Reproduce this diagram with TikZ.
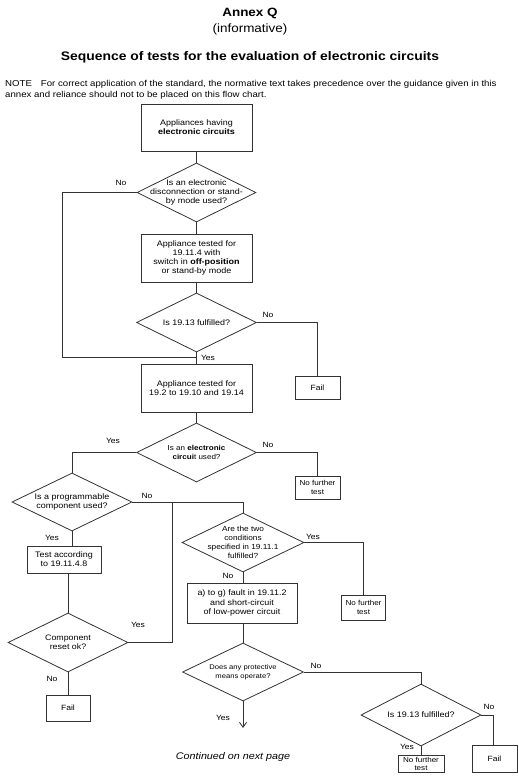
\documentclass[tikz,border=0pt]{standalone}
\usepackage{fontspec}
\setmainfont{Liberation Sans}[FakeStretch=1.12]
\usetikzlibrary{shapes.geometric,arrows.meta}
\newcommand\myfs[2]{\fontsize{#1}{#2}\selectfont}
\begin{document}
\begin{tikzpicture}[x=1pt,y=-1pt,
  ln/.style={draw=black!80,line width=0.8pt},
  box/.style 2 args={rectangle,ln,inner sep=0pt,minimum width=#1,minimum height=#2,align=center,font=\myfs{8}{9.2}},
  dia/.style 2 args={diamond,ln,inner sep=0pt,minimum width=#1,minimum height=#2},
  dtext/.style={align=center,inner sep=0pt,font=\myfs{8}{9.2}},
  lab/.style={inner sep=0pt,font=\myfs{7.6}{9}},
  smallbox/.style={font=\myfs{7.2}{9.5}},
  notetext/.style={anchor=base west,inner sep=0pt,font=\myfs{8.6}{11}},
  flow/.style={ln}]
\fill[white] (0,0) rectangle (519,782);
\useasboundingbox (0,0) rectangle (519,782);
% titles
\node[anchor=base,inner sep=0pt,font=\myfs{12}{14}\bfseries] (t1) at (250,16) {Annex Q};
\node[anchor=base,inner sep=0pt,font=\myfs{12}{14}] (t2) at (250,32.5) {(informative)};
\node[anchor=base,inner sep=0pt,font=\myfs{12.4}{14}\bfseries] (t3) at (250,60) {Sequence of tests for the evaluation of electronic circuits};
\node[notetext] (note1) at (5,86) {NOTE\hspace{9pt}For correct application of the standard, the normative text takes precedence over the guidance given in this};
\node[notetext] (note2) at (5,97.5) {annex and reliance should not to be placed on this flow chart.};
% main column
\node[box={111}{47}] (b1) at (196.5,127.5) {Appliances having\\\textbf{electronic circuits}};
\node[dia={119}{59}] (d1) at (196.5,192.5) {};
\node[dtext] (d1t) at (d1) {Is an electronic\\disconnection or stand-\\by mode used?};
\node[box={111}{48}] (b2) at (196.5,258) {Appliance tested for\\19.11.4 with\\switch in \textbf{off-position}\\or stand-by mode};
\node[dia={120}{59}] (d2) at (196.5,322.5) {};
\node[dtext] (d2t) at (d2) {Is 19.13 fulfilled?};
\node[box={45}{23},font=\myfs{7.6}{9}] (f1) at (317.5,387.5) {Fail};
\coordinate (m1) at (196.5,357);
\coordinate (l1) at (62,357);
\node[box={111}{48}] (b3) at (196.5,388) {Appliance tested for\\19.2 to 19.10 and 19.14};
\node[dia={120}{59}] (d3) at (196.5,452.5) {};
\node[dtext,font=\myfs{7.2}{9}] (d3t) at (d3) {Is an \textbf{electronic}\\\textbf{circui}t used?};
\node[box={45}{23},smallbox] (n1) at (317.5,487.5) {No further\\test};
% left branch
\node[dia={120}{58}] (d4) at (72,502) {};
\node[dtext] (d4t) at (d4) {Is a programmable\\component used?};
\node[box={74}{27}] (tb) at (64,559.5) {Test according\\to 19.11.4.8};
\node[dia={120}{59}] (d6) at (68,642.5) {};
\node[dtext,font=\myfs{7.9}{9.2}] (d6t) at (d6) {Component\\reset ok?};
\node[box={44}{26},font=\myfs{7.6}{9}] (f2) at (68,708) {Fail};
\coordinate (j1) at (172,502);
% middle branch
\node[dia={122}{59}] (d5) at (243,542.5) {};
\node[dtext,font=\myfs{7.4}{9}] (d5t) at (d5) {Are the two\\conditions\\specified in 19.11.1\\fulfilled?};
\node[box={44}{25},smallbox] (n2) at (363.5,607.5) {No further\\test};
\node[box={110}{40}] (b4) at (242,603) {a) to g) fault in 19.11.2\\and short-circuit\\of low-power circuit};
\node[dia={121}{58}] (d7) at (243,672) {};
\node[dtext,font=\myfs{6.8}{9}] (d7t) at (d7) {Does any protective\\means operate?};
\coordinate (arr) at (243,728);
\node[dia={120}{62}] (d8) at (421,715) {};
\node[dtext] (d8t) at (d8) {Is 19.13 fulfilled?};
\node[box={45}{27},font=\myfs{7.6}{9}] (f3) at (494.5,758.5) {Fail};
\node[box={46}{17},font=\myfs{7.2}{8}] (n3) at (421,763.5) {No further\\test};
\node[anchor=center,inner sep=0pt,font=\myfs{9.6}{11}\itshape] (cont) at (233,757) {Continued on next page};
% connectors
\draw[flow] (b1.south) -- (d1.north);
\draw[flow] (d1.west) -| (l1) -- (m1);
\draw[flow] (d1.south) -- (b2.north);
\draw[flow] (b2.south) -- (d2.north);
\draw[flow] (d2.south) -- (b3.north);
\draw[flow] (d2.east) -| (f1.north);
\draw[flow] (b3.south) -- (d3.north);
\draw[flow] (d3.east) -| (n1.north);
\draw[flow] (d3.west) -| (d4.north);
\draw[flow] (d4.east) -| (d5.north);
\draw[flow] (d6.east) -| (j1);
\draw[flow] (d4.south) -- (d4.south |- tb.north);
\draw[flow] (d6.north |- tb.south) -- (d6.north);
\draw[flow] (d6.south) -- (f2.north);
\draw[flow] (d5.east) -| (n2.north);
\draw[flow] (d5.south) -- (d5.south |- b4.north);
\draw[flow] (d7.north |- b4.south) -- (d7.north);
\draw[flow,-{Straight Barb[length=5pt,width=7pt]}] (d7.south) -- (arr);
\draw[flow] (d7.east) -| (d8.north);
\draw[flow] (d8.east) -| ([xshift=-1.5pt]f3.north);
\draw[flow] (d8.south) -- (n3.north);
% labels
\node[lab] (y1) at (121,183) {No};
\node[lab] (y2) at (268,315) {No};
\node[lab] (y3) at (208,358) {Yes};
\node[lab] (y4) at (268,445) {No};
\node[lab] (y5) at (113,441) {Yes};
\node[lab] (y6) at (147,496) {No};
\node[lab] (y7) at (52,538) {Yes};
\node[lab] (y8) at (313,537) {Yes};
\node[lab] (y9) at (228,576) {No};
\node[lab] (y10) at (138,625) {Yes};
\node[lab] (y11) at (52,679) {No};
\node[lab] (y12) at (223,718) {Yes};
\node[lab] (y13) at (316,666) {No};
\node[lab] (y14) at (489,707) {No};
\node[lab] (y15) at (407,747) {Yes};
\end{tikzpicture}
\end{document}
